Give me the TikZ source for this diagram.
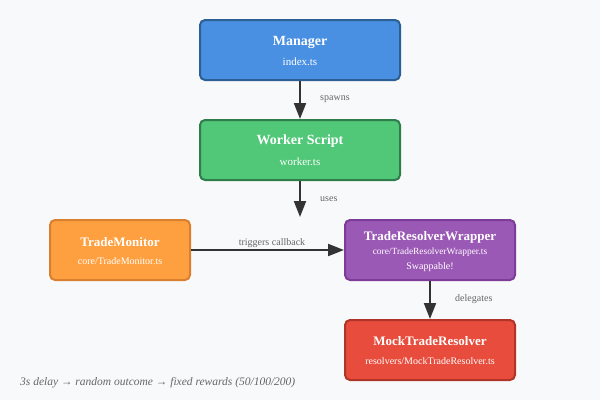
\documentclass[tikz,border=0pt]{standalone}
\usepackage{fontspec}
\setmainfont{Liberation Serif}
\usetikzlibrary{arrows.meta}
\definecolor{bg}{HTML}{F8F9FA}
\definecolor{mgrF}{HTML}{4A90E2}\definecolor{mgrD}{HTML}{2C5F93}
\definecolor{wrkF}{HTML}{50C878}\definecolor{wrkD}{HTML}{2E7D4A}
\definecolor{monF}{HTML}{FFA040}\definecolor{monD}{HTML}{D98030}
\definecolor{wrpF}{HTML}{9B59B6}\definecolor{wrpD}{HTML}{7D3C98}
\definecolor{mckF}{HTML}{E74C3C}\definecolor{mckD}{HTML}{B03428}
\definecolor{arr}{HTML}{333333}
\definecolor{lbl}{HTML}{666666}
\tikzset{
  box/.style={rounded corners=5pt, line width=2pt, minimum height=60pt, inner sep=0pt, text=white, align=center},
  ttl/.style={text=white, font=\fontsize{14}{16}\selectfont\bfseries, inner sep=0pt},
  sub/.style={text=white, font=\fontsize{11}{13}\selectfont, inner sep=0pt},
  conn/.style={draw=arr, line width=2pt, -{Triangle[length=16pt,width=12pt]}},
  elab/.style={text=lbl, font=\fontsize{10}{12}\selectfont, inner sep=0pt},
}
\begin{document}
\begin{tikzpicture}[x=1pt,y=-1pt]
\fill[bg] (0,0) rectangle (600,400);
\useasboundingbox (0,0) rectangle (600,400);
% boxes
\node[box, fill=mgrF, draw=mgrD, minimum width=200pt] (mgr) at (300,50) {};
\node[ttl] (mgrT) at (300,42) {Manager};
\node[sub] (mgrS) at (300,61.5) {index.ts};
\node[box, fill=wrkF, draw=wrkD, minimum width=200pt] (wrk) at (300,150) {};
\node[ttl] (wrkT) at (300,141.5) {Worker Script};
\node[sub] (wrkS) at (300,161.5) {worker.ts};
\node[box, fill=monF, draw=monD, minimum width=140pt] (mon) at (120,250) {};
\node[ttl, font=\fontsize{13}{15}\selectfont\bfseries] (monT) at (120,242) {TradeMonitor};
\node[sub, font=\fontsize{10}{12}\selectfont] (monS) at (120,261.5) {core/TradeMonitor.ts};
\node[box, fill=wrpF, draw=wrpD, minimum width=170pt] (wrp) at (430,250) {};
\node[ttl, font=\fontsize{13}{15}\selectfont\bfseries] (wrpT) at (430,237) {TradeResolverWrapper};
\node[sub, font=\fontsize{9.4}{11}\selectfont] (wrpS) at (430,252.5) {core/TradeResolverWrapper.ts};
\node[sub, font=\fontsize{10}{12}\selectfont] (wrpX) at (430,267) {Swappable!};
\node[box, fill=mckF, draw=mckD, minimum width=170pt] (mck) at (430,350) {};
\node[ttl, font=\fontsize{13}{15}\selectfont\bfseries] (mckT) at (430,341) {MockTradeResolver};
\node[sub, font=\fontsize{10}{12}\selectfont] (mckS) at (430,361) {resolvers/MockTradeResolver.ts};
% connectors
\coordinate (usesEnd) at (300,217);
\draw[conn] (mgr.south) -- (wrk.north);
\draw[conn] (wrk.south) -- (usesEnd);
\draw[conn] (mon.east) -- (wrp.west);
\draw[conn] (wrp.south) -- (mck.north);
% labels
\node[elab, anchor=west] (l1) at (320,99.5) {spawns};
\node[elab, anchor=west] (l2) at (320,199.5) {uses};
\node[elab] (l3) at (272,243.5) {triggers callback};
\node[elab, anchor=west] (l4) at (455,299.5) {delegates};
\node[elab, anchor=west, font=\fontsize{11.5}{13}\selectfont\itshape] (foot) at (20,382.5) {3s delay → random outcome → fixed rewards (50/100/200)};
\end{tikzpicture}
\end{document}
